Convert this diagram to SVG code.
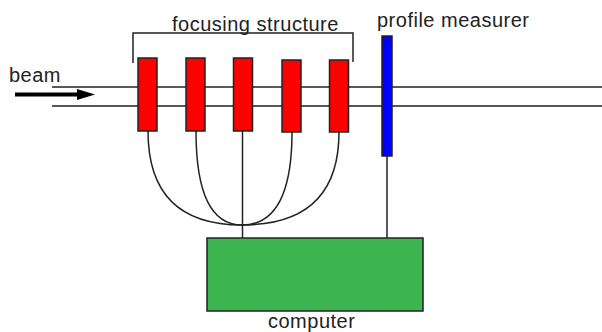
<svg xmlns="http://www.w3.org/2000/svg" width="602" height="332" viewBox="0 0 602 332">
<defs>
<style>
.ln{fill:none;stroke:#222;stroke-width:1.5}
.mag{fill:#ff0000;stroke:#222;stroke-width:1.5}
.lbl{font-family:"Liberation Sans",Arial,sans-serif;font-size:20px;fill:#222;letter-spacing:0.5px}
</style>
</defs>
<rect width="602" height="332" fill="#fff"/>
<g id="beampipe">
<line class="ln" x1="52" y1="87" x2="602" y2="87"/>
<line class="ln" x1="52" y1="106" x2="602" y2="106"/>
</g>
<g id="beam">
<line x1="15" y1="94.5" x2="79" y2="94.5" stroke="#000" stroke-width="4"/>
<polygon points="77,89 95,94.5 77,100" fill="#000"/>
<text class="lbl" x="9" y="82">beam</text>
</g>
<g id="connectors">
<path class="ln" d="M148,131 Q148,225 242,225"/>
<path class="ln" d="M196,131 Q196,225 242,225"/>
<path class="ln" d="M292,132 Q292,225 242,225"/>
<path class="ln" d="M339,132 Q339,225 242,225"/>
<line class="ln" x1="242.5" y1="131" x2="242.5" y2="238"/>
<line class="ln" x1="387" y1="156" x2="387" y2="238"/>
</g>
<g id="focusing-structure">
<path class="ln" d="M133,63 V33 H353 V62"/>
<text class="lbl" x="172" y="31">focusing structure</text>
<rect class="mag" x="138" y="58" width="19" height="73"/>
<rect class="mag" x="186" y="58" width="19" height="73"/>
<rect class="mag" x="233.5" y="58" width="19" height="73"/>
<rect class="mag" x="282" y="60" width="19" height="72"/>
<rect class="mag" x="329.5" y="60" width="19" height="72"/>
</g>
<g id="profile-measurer">
<rect x="382" y="36" width="10" height="120" fill="#0000ff" stroke="#222" stroke-width="1.5"/>
<text class="lbl" x="377" y="27">profile measurer</text>
</g>
<g id="computer">
<rect x="207" y="238" width="216" height="73" fill="#3cb44f" stroke="#222" stroke-width="1.5"/>
<text class="lbl" x="268" y="328">computer</text>
</g>
</svg>
